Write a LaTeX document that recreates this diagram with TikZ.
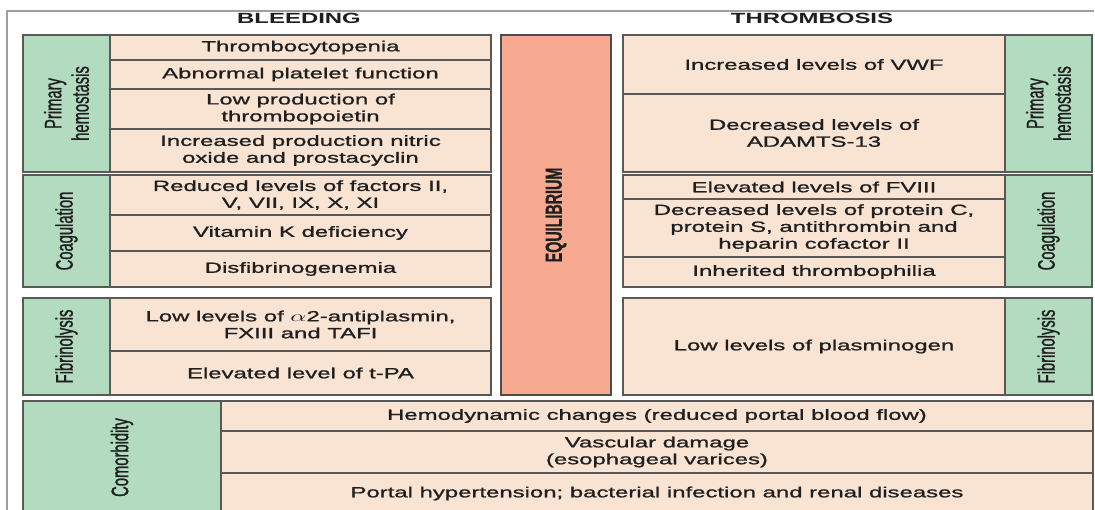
\documentclass[tikz,border=0pt]{standalone}
\usepackage{fontspec}
\usepackage{tikz}
\usetikzlibrary{positioning}
\newfontfamily\widefont[FakeStretch=1.62,FakeBold=1.2]{Liberation Sans}
\newfontfamily\tallfont[FakeStretch=0.617,FakeBold=1.0]{Liberation Sans}
\newfontfamily\headfont[FakeStretch=1.62]{Liberation Sans}
\definecolor{labelgreen}{RGB}{179,219,192}
\definecolor{cellpeach}{RGB}{249,228,212}
\definecolor{eqsalmon}{RGB}{248,170,145}
\def\pxl{0.025cm}
\tikzstyle{cell}=[rectangle,draw=black!65,fill=cellpeach,line width=0.8pt,inner sep=0pt,align=center,text=black!88,font=\widefont\fontsize{10.5}{12}\selectfont]
\tikzstyle{grouplabel}=[rectangle,draw=black!65,fill=labelgreen,line width=0.8pt,inner sep=0pt,align=center,rotate=90,text=black!88,font=\tallfont\fontsize{17}{19.5}\selectfont]
\tikzstyle{equil}=[rectangle,draw=black!70,fill=eqsalmon,line width=0.8pt,inner sep=0pt,rotate=90,text=black!88,font=\tallfont\fontsize{16.5}{19}\selectfont\bfseries]
\tikzstyle{heading}=[inner sep=0pt,text=black!88,font=\headfont\fontsize{10.5}{12}\selectfont\bfseries]

\begin{document}
\begin{tikzpicture}[x=0.025cm,y=-0.025cm]
	\useasboundingbox (0,0) rectangle (1095,510);
	\def \lw {381}
	\def \rw {382}
	\def \gw {87}

	% outer frame
	\draw[gray!75,line width=1pt] (7,516) -- (7,11) -- (1094,11);

	\node[heading] (bleed) at (299,18) {BLEEDING};
	\node[heading] (thromb) at (812,18) {THROMBOSIS};

	% bleeding side
	\node[grouplabel, minimum width=137*\pxl, minimum height=\gw*\pxl] (lprim) at (66.5,103.5) {Primary\\hemostasis};
	\node[cell, minimum width=\lw*\pxl, minimum height=25*\pxl] (lp1) at (300.5,47.5) {Thrombocytopenia};
	\node[cell, minimum width=\lw*\pxl, minimum height=29*\pxl] (lp2) at (300.5,74.5) {Abnormal platelet function};
	\node[cell, minimum width=\lw*\pxl, minimum height=40*\pxl] (lp3) at (300.5,109) {Low production of\\thrombopoietin};
	\node[cell, minimum width=\lw*\pxl, minimum height=43*\pxl] (lp4) at (300.5,150.5) {Increased production nitric\\oxide and prostacyclin};

	\node[grouplabel, minimum width=112*\pxl, minimum height=\gw*\pxl] (lcoag) at (66.5,231) {Coagulation};
	\node[cell, minimum width=\lw*\pxl, minimum height=40*\pxl] (lc1) at (300.5,195) {Reduced levels of factors II,\\V, VII, IX, X, XI};
	\node[cell, minimum width=\lw*\pxl, minimum height=36*\pxl] (lc2) at (300.5,233) {Vitamin K deficiency};
	\node[cell, minimum width=\lw*\pxl, minimum height=36*\pxl] (lc3) at (300.5,269) {Disfibrinogenemia};

	\node[grouplabel, minimum width=97*\pxl, minimum height=\gw*\pxl] (lfib) at (66.5,346.5) {Fibrinolysis};
	\node[cell, minimum width=\lw*\pxl, minimum height=53*\pxl] (lf1) at (300.5,324.5) {Low levels of \scalebox{1.62}[1]{$\alpha$}2-antiplasmin,\\FXIII and TAFI};
	\node[cell, minimum width=\lw*\pxl, minimum height=44*\pxl] (lf2) at (300.5,373) {Elevated level of t-PA};

	% balance
	\node[equil, minimum width=360*\pxl, minimum height=110*\pxl] (eq) at (556,215) {EQUILIBRIUM};

	% thrombosis side
	\node[cell, minimum width=\rw*\pxl, minimum height=59*\pxl] (rp1) at (814,64.5) {Increased levels of VWF};
	\node[cell, minimum width=\rw*\pxl, minimum height=78*\pxl] (rp2) at (814,133) {Decreased levels of\\ADAMTS-13};
	\node[grouplabel, minimum width=137*\pxl, minimum height=\gw*\pxl] (rprim) at (1048.5,103.5) {Primary\\hemostasis};

	\node[cell, minimum width=\rw*\pxl, minimum height=24*\pxl] (rc1) at (814,187) {Elevated levels of FVIII};
	\node[cell, minimum width=\rw*\pxl, minimum height=58*\pxl] (rc2) at (814,228) {Decreased levels of protein C,\\protein S, antithrombin and\\heparin cofactor II};
	\node[cell, minimum width=\rw*\pxl, minimum height=30*\pxl] (rc3) at (814,272) {Inherited thrombophilia};
	\node[grouplabel, minimum width=112*\pxl, minimum height=\gw*\pxl] (rcoag) at (1048.5,231) {Coagulation};

	\node[cell, minimum width=\rw*\pxl, minimum height=97*\pxl] (rf1) at (814,346.5) {Low levels of plasminogen};
	\node[grouplabel, minimum width=97*\pxl, minimum height=\gw*\pxl] (rfib) at (1048.5,346.5) {Fibrinolysis};

	% shared conditions
	\node[grouplabel, minimum width=113*\pxl, minimum height=198*\pxl] (comorb) at (122,457.5) {Comorbidity};
	\node[cell, minimum width=872*\pxl, minimum height=30*\pxl] (cm1) at (657,416) {Hemodynamic changes (reduced portal blood flow)};
	\node[cell, minimum width=872*\pxl, minimum height=42*\pxl] (cm2) at (657,452) {Vascular damage\\(esophageal varices)};
	\node[cell, minimum width=872*\pxl, minimum height=41*\pxl] (cm3) at (657,493.5) {Portal hypertension; bacterial infection and renal diseases};
\end{tikzpicture}
\end{document}
